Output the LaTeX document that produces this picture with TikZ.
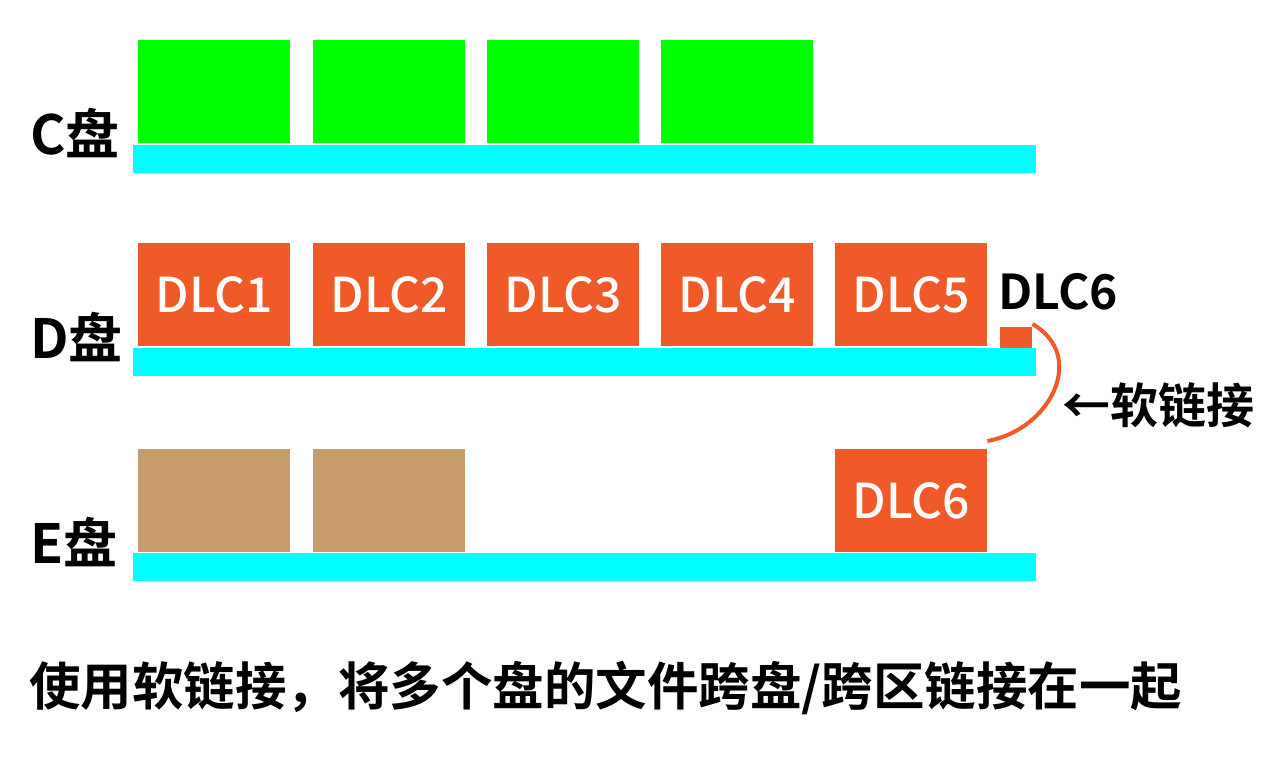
\documentclass[tikz,border=0pt]{standalone}
\usepackage{fontspec}
\setmainfont{Noto Sans CJK SC}[BoldFont={Noto Sans CJK SC Bold}]
\newfontfamily\medfont{Noto Sans CJK SC Medium}
\usepackage{tikz}

\definecolor{diskbar}{HTML}{00FFFF}
\definecolor{cfile}{HTML}{00FF00}
\definecolor{dlc}{HTML}{F05A28}
\definecolor{efile}{HTML}{C69C6D}

\tikzset{
  filebox/.style={rectangle,fill=#1,minimum width=152pt,minimum height=103pt,
    inner sep=0pt,anchor=north west,text=white,font=\medfont\fontsize{48}{48}\selectfont},
  diskbar/.style={rectangle,fill=diskbar,minimum width=903pt,minimum height=28pt,
    inner sep=0pt,anchor=north west},
  disklabel/.style={anchor=west,inner sep=0pt,font=\bfseries\fontsize{54}{54}\selectfont},
  plain/.style={anchor=west,inner sep=0pt,font=\bfseries\fontsize{48}{48}\selectfont}
}

\begin{document}
\begin{tikzpicture}[x=1pt,y=-1pt]
      \useasboundingbox[fill=white] (0,0) rectangle (1280,766);
      \foreach \ypos/\name in {145/cbar, 348/dbar, 553/ebar}
      \node[diskbar] (\name) at (133,\ypos) {};
      \foreach \pos/\name/\label in {{(30,133)/clabel/C盘}, {(30,337)/dlabel/D盘}, {(30,542)/elabel/E盘}}
      \node[disklabel] (\name) at \pos {\label};
      \foreach \xpos/\name in {138/c1, 313/c2, 487/c3, 661/c4}
      \node[filebox=cfile] (\name) at (\xpos,40) {};
      \foreach \xpos/\num in {138/1, 313/2, 487/3, 661/4, 835/5}
      \node[filebox=dlc] (d\num) at (\xpos,243) {DLC\num};
      \foreach \xpos/\name in {138/e1, 313/e2}
      \node[filebox=efile] (\name) at (\xpos,449) {};
      \node[filebox=dlc] (e6) at (835,449) {DLC6};
      \node[rectangle,fill=dlc,minimum width=32pt,minimum height=21pt,inner sep=0pt,anchor=north west] (dlink) at (1000,327) {};
      \node[plain] (dname) at (998,292) {DLC6};
      \node[plain] (linklabel) at (1062,405) {←软链接};
      \path[draw,line width=4pt,dlc] ([yshift=3pt]dlink.north east) to[out=-30,in=10,looseness=1.3] ([yshift=8pt]e6.north east);
      \node[anchor=west,inner sep=0pt,font=\bfseries\fontsize{51.5}{51.5}\selectfont] (caption) at (29,688) {使用软链接，将多个盘的文件跨盘/跨区链接在一起};
    \end{tikzpicture}
\end{document}
